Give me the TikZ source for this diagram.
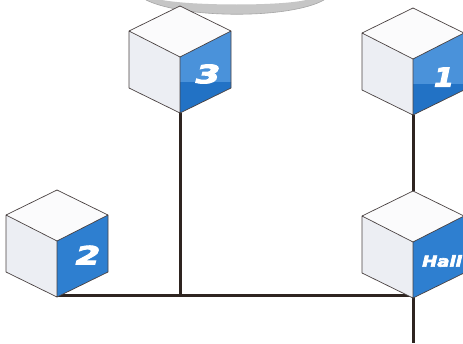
\documentclass[tikz,border=0pt]{standalone}
\usepackage{fontspec}
\newfontfamily\techfont[FakeBold=4]{DejaVu Sans Bold Oblique}
\definecolor{blueL}{HTML}{4A92DA}
\definecolor{blueD}{HTML}{2272C5}
\definecolor{blueM}{HTML}{2E7FD0}
\definecolor{leftface}{HTML}{ECEEF3}
\definecolor{topface}{HTML}{FBFBFC}
\definecolor{edgeline}{HTML}{4A4242}
\definecolor{wire}{HTML}{2E2420}
\pgfdeclarelayer{bg}
\pgfsetlayers{bg,main}
\tikzset{
  wirestyle/.style={draw=wire, line width=3pt},
  lbl/.style={text=white, inner sep=0pt},
  pics/cube/.style={code={
    \coordinate (-top) at (0,0);
    \coordinate (-bot) at (0,107);
    \fill[topface] (0,0) -- (51,25) -- (0,51) -- (-51,25) -- cycle;
    \fill[leftface] (-51,25) -- (0,51) -- (0,107) -- (-51,82) -- cycle;
    \fill[#1] (0,51) -- (51,25) -- (51,76) -- (0,76) -- cycle;
    \fill[blueD] (0,76) -- (51,76) -- (51,82) -- (0,107) -- cycle;
    \draw[edgeline, line width=0.7pt, line join=round]
      (0,0) -- (51,25) -- (51,82) -- (0,107) -- (-51,82) -- (-51,25) -- cycle
      (-51,25) -- (0,51) -- (51,25) (0,51) -- (0,107);
  }},
  pics/flatcube/.style={code={
    \coordinate (-top) at (0,0);
    \coordinate (-bot) at (0,107);
    \fill[topface] (0,0) -- (51,25) -- (0,51) -- (-51,25) -- cycle;
    \fill[leftface] (-51,25) -- (0,51) -- (0,107) -- (-51,82) -- cycle;
    \fill[blueM] (0,51) -- (51,25) -- (51,82) -- (0,107) -- cycle;
    \draw[edgeline, line width=0.7pt, line join=round]
      (0,0) -- (51,25) -- (51,82) -- (0,107) -- (-51,82) -- (-51,25) -- cycle
      (-51,25) -- (0,51) -- (51,25) (0,51) -- (0,107);
  }}
}
\begin{document}
\begin{tikzpicture}[x=1pt,y=-1pt]
\useasboundingbox (0,0) rectangle (463,343);
\clip (0,0) rectangle (463,343);
\begin{pgfonlayer}{bg}
\fill[white] (0,0) rectangle (463,343);
\end{pgfonlayer}
% gray arc at top
\fill[gray!45] (146,0) .. controls (185,19) and (290,19) .. (324,0) -- (306,0) .. controls (280,6) and (195,6) .. (162,0) -- cycle;
\draw[gray!70, line width=0.6pt] (146,0) .. controls (185,19) and (290,19) .. (324,0);
% cubes
\pic (c3) at (180,6) {cube=blueL};
\pic (c1) at (413,8) {cube=blueL};
\pic (c2) at (57,190) {flatcube};
\pic (hall) at (413,191) {flatcube};
% junction coordinates
\coordinate (jl) at (58,295);
\coordinate (j3) at (180,295);
\coordinate (jh) at (413,295);
\coordinate (endb) at (413,343);
% wires behind cubes
\begin{pgfonlayer}{bg}
\draw[wirestyle] (c3-bot) -- (j3);
\draw[wirestyle] (jl) -- (jh);
\draw[wirestyle] (c1-bot) -- (hall-top);
\draw[wirestyle] (jh) -- (endb);
\end{pgfonlayer}
% labels
\node[lbl, font=\techfont\fontsize{25}{25}\selectfont] (l3) at (208,74) {\scalebox{1.4}[1]{3}};
\node[lbl, font=\techfont\fontsize{26}{26}\selectfont] (l1) at (444,77) {\scalebox{1.1}[1]{1}};
\node[lbl, font=\techfont\fontsize{25}{25}\selectfont] (l2) at (88,255) {\scalebox{1.4}[1]{2}};
\node[lbl, font=\techfont\fontsize{15}{15}\selectfont] (lh) at (442,261) {\scalebox{1.2}[1]{Hall}};
\end{tikzpicture}
\end{document}
